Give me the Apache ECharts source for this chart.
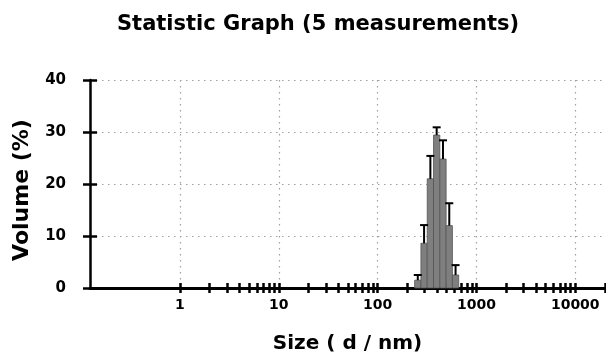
<!DOCTYPE html>
<html>
<head>
<meta charset="utf-8">
<script src="https://cdn.jsdelivr.net/npm/echarts@6/dist/echarts.min.js"></script>
<style>
  html, body { margin: 0; padding: 0; background: #fff; }
  #main { width: 606px; height: 362px; }
</style>
</head>
<body>
<div id="main"></div>
<script>
// size bins (d / nm), mean volume % and upper error of the 5 measurements
const sizes = [255.0, 295.3, 342.0, 396.1, 458.7, 531.2, 615.1];
const volume = [1.5, 8.6, 21.0, 29.4, 24.8, 12.0, 2.5];
const volumeErr = [1.0, 3.5, 4.4, 1.5, 3.6, 4.3, 1.9];

const decadeLabels = [1, 10, 100, 1000, 10000];
const yTicks = [0, 10, 20, 30, 40];

const xMinLog = -0.91;
const xMaxLog = Math.log10(20000);
const halfBin = Math.log10(295.3 / 255.0) / 2;

// minor ticks 1..9 for every decade from 1 to 10000, plus 20000 at the end
const minorTicks = [];
for (let d = 1; d <= 1000; d *= 10) {
  for (let k = 1; k < 10; k++) minorTicks.push(Math.log10(k * d));
}
minorTicks.push(Math.log10(10000), Math.log10(20000));

const FONT = 'DejaVu Sans';

const chartDom = document.getElementById('main');
const myChart = echarts.init(chartDom, null, { renderer: 'canvas' });

const barData = sizes.map((s, i) => [Math.log10(s), volume[i], volumeErr[i]]);

const dotted = { color: '#a0a0a0', width: 1.2, type: [1.5, 4.5] };

const hiddenX = {
  type: 'value',
  position: 'bottom',
  min: xMinLog,
  max: xMaxLog,
  axisLine: { show: false, onZero: false },
  axisLabel: { show: false },
  splitLine: { show: false }
};

let option = {
  animation: false,
  title: {
    text: 'Statistic Graph (5 measurements)',
    left: 112,
    top: 9,
    textStyle: { fontFamily: FONT, fontWeight: 'bold', fontSize: 21, color: '#000' }
  },
  grid: { left: 90, right: 1, top: 80, bottom: 74, containLabel: false },
  xAxis: [
    {
      type: 'value',
      position: 'bottom',
      min: xMinLog,
      max: xMaxLog,
      name: 'Size ( d / nm)',
      nameLocation: 'middle',
      nameGap: 46,
      nameTextStyle: { fontFamily: FONT, fontWeight: 'bold', fontSize: 20, color: '#000' },
      axisLine: { onZero: false, lineStyle: { color: '#000', width: 3 } },
      axisTick: { show: false, customValues: decadeLabels.map((v) => Math.log10(v)) },
      axisLabel: {
        customValues: decadeLabels.map((v) => Math.log10(v)),
        formatter: (v) => String(Math.round(Math.pow(10, v))),
        margin: 10,
        fontFamily: FONT,
        fontWeight: 'bold',
        fontSize: 14,
        color: '#000'
      },
      splitLine: { show: true, lineStyle: dotted }
    },
    Object.assign({}, hiddenX, {
      axisTick: { show: true, inside: false, length: 5, customValues: minorTicks, lineStyle: { color: '#000', width: 2.5 } }
    }),
    Object.assign({}, hiddenX, {
      axisTick: { show: true, inside: true, length: 5, customValues: minorTicks, lineStyle: { color: '#000', width: 2.5 } }
    })
  ],
  yAxis: [
    {
      type: 'value',
      position: 'left',
      min: 0,
      max: 40,
      interval: 10,
      name: 'Volume (%)',
      nameLocation: 'middle',
      nameGap: 57,
      nameTextStyle: { fontFamily: FONT, fontWeight: 'bold', fontSize: 22, color: '#000', padding: [0, 12, 0, 0] },
      axisLine: { show: true, onZero: false, lineStyle: { color: '#000', width: 2.5 } },
      axisTick: { show: true, inside: false, length: 7, customValues: yTicks, lineStyle: { color: '#000', width: 2.5 } },
      axisLabel: { margin: 24, fontFamily: FONT, fontWeight: 'bold', fontSize: 15, color: '#000' },
      splitLine: { show: true, lineStyle: dotted }
    },
    {
      type: 'value',
      position: 'left',
      min: 0,
      max: 40,
      interval: 10,
      axisLine: { show: false, onZero: false },
      axisTick: { show: true, inside: true, length: 7, customValues: yTicks, lineStyle: { color: '#000', width: 2.5 } },
      axisLabel: { show: false },
      splitLine: { show: false }
    }
  ],
  series: [
    {
      name: 'Volume',
      type: 'custom',
      xAxisIndex: 0,
      yAxisIndex: 0,
      data: barData,
      renderItem: (params, api) => {
        const lo = api.coord([api.value(0) - halfBin, 0]);
        const hi = api.coord([api.value(0) + halfBin, api.value(1)]);
        return {
          type: 'rect',
          shape: { x: lo[0], y: hi[1], width: hi[0] - lo[0], height: lo[1] - hi[1] },
          style: { fill: '#7f7f7f', stroke: '#555', lineWidth: 0.8 }
        };
      },
      z: 3
    },
    {
      name: 'Error',
      type: 'custom',
      xAxisIndex: 0,
      yAxisIndex: 0,
      data: barData,
      renderItem: (params, api) => {
        const base = api.coord([api.value(0), api.value(1)]);
        const top = api.coord([api.value(0), api.value(1) + api.value(2)]);
        const cap = 4;
        const style = { stroke: '#000', lineWidth: 2 };
        return {
          type: 'group',
          children: [
            { type: 'line', shape: { x1: base[0], y1: base[1], x2: top[0], y2: top[1] }, style },
            { type: 'line', shape: { x1: top[0] - cap, y1: top[1], x2: top[0] + cap, y2: top[1] }, style }
          ]
        };
      },
      z: 4
    }
  ]
};

if (option && typeof option === 'object') {
  myChart.setOption(option);
}
window.addEventListener('resize', () => {
  myChart.resize();
});
</script>
</body>
</html>
